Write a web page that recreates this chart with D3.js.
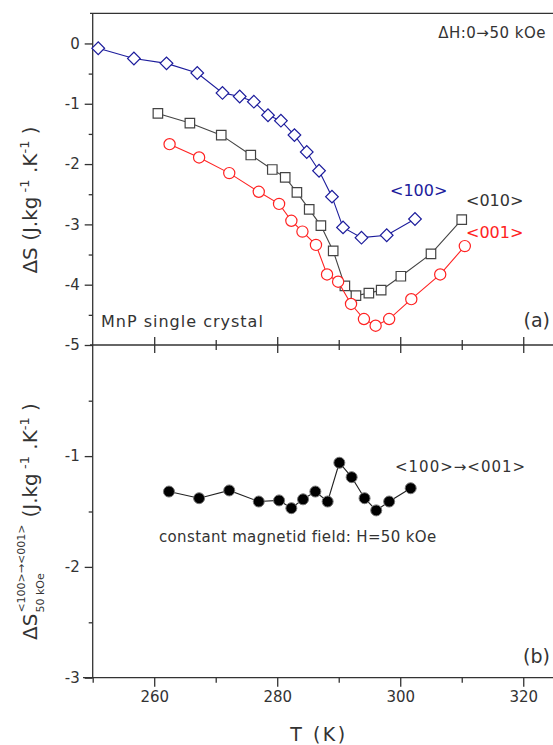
<!DOCTYPE html>
<html>
<head>
<meta charset="utf-8">
<script src="https://cdn.jsdelivr.net/npm/d3@7"></script>
<style>
body { margin: 0; background: #fff; }
text { font-family: "DejaVu Sans", Verdana, sans-serif; }
</style>
</head>
<body>
<script>
// <100> direction (blue diamonds)
var T100 = [250.9, 256.7, 262.0, 267.0, 271.1, 273.9, 276.2, 278.5, 280.6, 282.8, 284.8, 286.8, 288.9, 290.7, 293.7, 297.8, 302.4];
var dS100 = [-0.08, -0.25, -0.33, -0.49, -0.82, -0.88, -0.965, -1.19, -1.28, -1.52, -1.80, -2.11, -2.54, -3.05, -3.22, -3.18, -2.91];

// <010> direction (grey squares)
var T010 = [260.6, 265.8, 270.9, 275.7, 279.2, 281.3, 283.2, 285.2, 287.1, 289.1, 291.0, 292.8, 294.9, 296.9, 300.1, 305.0, 310.0];
var dS010 = [-1.16, -1.32, -1.52, -1.85, -2.09, -2.22, -2.47, -2.75, -3.02, -3.44, -4.02, -4.18, -4.14, -4.09, -3.86, -3.49, -2.92];

// <001> direction (red circles)
var T001 = [262.5, 267.3, 272.2, 277.0, 280.3, 282.3, 284.1, 286.3, 288.1, 289.9, 292.0, 294.1, 296.0, 298.2, 301.8, 306.5, 310.5];
var dS001 = [-1.67, -1.89, -2.15, -2.46, -2.66, -2.94, -3.12, -3.34, -3.83, -3.95, -4.32, -4.57, -4.68, -4.57, -4.24, -3.83, -3.36];

// <100> -> <001> rotation at 50 kOe
var Trot = [262.4, 267.3, 272.2, 277.0, 280.3, 282.3, 284.2, 286.2, 288.2, 290.1, 292.1, 294.2, 296.1, 298.2, 301.7];
var dSrot = [-1.32, -1.38, -1.31, -1.41, -1.40, -1.47, -1.39, -1.32, -1.41, -1.06, -1.19, -1.38, -1.49, -1.41, -1.29];

var xTicks = [260, 280, 300, 320];
var xMinor = [250, 270, 290, 310];
var yTopTicks = [0, -1, -2, -3, -4, -5];
var yTopMinor = [-0.5, -1.5, -2.5, -3.5, -4.5];
var yBotTicks = [-1, -2, -3];
var yBotMinor = [-0.5, -1.5, -2.5];

var width = 553, height = 745;
var axisCol = "#333";

var svg = d3.select("body").append("svg")
	.attr("width", width)
	.attr("height", height);

var x = d3.scaleLinear().domain([250, 325]).range([92.7, 554]);
var yTop = d3.scaleLinear().domain([-5, 0.5]).range([345, 13.3]);
var yBot = d3.scaleLinear().domain([-3, 0]).range([677.7, 345.3]);

function styleAxis(g) {
	g.selectAll("path.domain").remove();
	g.selectAll("line").attr("stroke", axisCol).attr("stroke-width", 1.3);
	g.selectAll("text").attr("fill", "#333").style("font-size", "15px")
		.style("font-family", "DejaVu Sans, Verdana, sans-serif");
}

// frame lines
svg.append("line").attr("x1", 90).attr("x2", width).attr("y1", yTop(0.5)).attr("y2", yTop(0.5))
	.attr("stroke", axisCol).attr("stroke-width", 1.3);
svg.append("line").attr("x1", x(250)).attr("x2", x(250)).attr("y1", yTop(0.5)).attr("y2", yBot(-3))
	.attr("stroke", axisCol).attr("stroke-width", 1.3);
svg.append("line").attr("x1", 90).attr("x2", width).attr("y1", yTop(-5)).attr("y2", yTop(-5))
	.attr("stroke", axisCol).attr("stroke-width", 1.3);
svg.append("line").attr("x1", 83).attr("x2", width).attr("y1", yBot(-3)).attr("y2", yBot(-3))
	.attr("stroke", axisCol).attr("stroke-width", 1.3);

// left axes
svg.append("g").attr("transform", "translate(" + x(250) + ",0)")
	.call(d3.axisLeft(yTop).tickValues(yTopTicks).tickSize(8).tickPadding(5).tickFormat(function(d){ return String(d); }))
	.call(styleAxis);
svg.append("g").attr("transform", "translate(" + x(250) + ",0)")
	.call(d3.axisLeft(yTop).tickValues(yTopMinor).tickSize(4).tickFormat(""))
	.call(styleAxis);
svg.append("g").attr("transform", "translate(" + x(250) + ",0)")
	.call(d3.axisLeft(yBot).tickValues(yBotTicks).tickSize(8).tickPadding(5).tickFormat(function(d){ return String(d); }))
	.call(styleAxis);
svg.append("g").attr("transform", "translate(" + x(250) + ",0)")
	.call(d3.axisLeft(yBot).tickValues(yBotMinor).tickSize(4).tickFormat(""))
	.call(styleAxis);

// middle axis, ticks cross the line
svg.append("g").attr("transform", "translate(0," + (yTop(-5) - 8) + ")")
	.call(d3.axisBottom(x).tickValues(xTicks).tickSize(16).tickFormat(""))
	.call(styleAxis);
svg.append("g").attr("transform", "translate(0," + (yTop(-5) - 5) + ")")
	.call(d3.axisBottom(x).tickValues(xMinor.slice(1)).tickSize(10).tickFormat(""))
	.call(styleAxis);

// bottom axis
svg.append("g").attr("transform", "translate(0," + yBot(-3) + ")")
	.call(d3.axisBottom(x).tickValues(xTicks).tickSize(9).tickPadding(5))
	.call(styleAxis);
svg.append("g").attr("transform", "translate(0," + yBot(-3) + ")")
	.call(d3.axisBottom(x).tickValues(xMinor).tickSize(5).tickFormat(""))
	.call(styleAxis);

// top panel series
function drawSeries(Ts, vals, col, lineCol, shape) {
	var pts = Ts.map(function(t, i){ return [x(t), yTop(vals[i])]; });
	svg.append("path")
		.attr("d", d3.line()(pts))
		.attr("fill", "none")
		.attr("stroke", lineCol)
		.attr("stroke-width", 1.1);
	var sel = svg.append("g").selectAll("path.m").data(pts).enter();
	if (shape == "circle") {
		sel.append("circle")
			.attr("cx", function(d){ return d[0]; })
			.attr("cy", function(d){ return d[1]; })
			.attr("r", 5.6)
			.attr("fill", "#fff").attr("stroke", col).attr("stroke-width", 1.2);
	} else {
		var sym = d3.symbol().type(d3.symbolSquare).size(shape == "diamond" ? 80 : 90);
		sel.append("path")
			.attr("d", sym)
			.attr("transform", function(d){
				return "translate(" + d[0] + "," + d[1] + ")" + (shape == "diamond" ? " rotate(45)" : "");
			})
			.attr("fill", "#fff").attr("stroke", col).attr("stroke-width", 1.2);
	}
}

drawSeries(T010, dS010, "#444", "#444", "square");
drawSeries(T001, dS001, "#ff2222", "#ff2222", "circle");
drawSeries(T100, dS100, "#1c1c9c", "#1c1c9c", "diamond");

// bottom panel series
var rotPts = Trot.map(function(t, i){ return [x(t), yBot(dSrot[i])]; });
svg.append("path")
	.attr("d", d3.line()(rotPts))
	.attr("fill", "none").attr("stroke", "#222").attr("stroke-width", 1.1);
svg.append("g").selectAll("circle").data(rotPts).enter().append("circle")
	.attr("cx", function(d){ return d[0]; })
	.attr("cy", function(d){ return d[1]; })
	.attr("r", 5.5)
	.attr("fill", "#000").attr("stroke", "#777").attr("stroke-width", 1);

// annotations
function label(txt, px, py, size, col, anchor, ls) {
	return svg.append("text").attr("x", px).attr("y", py)
		.attr("fill", col).style("font-size", size + "px")
		.style("letter-spacing", (ls || 0) + "px")
		.attr("text-anchor", anchor || "start").text(txt);
}
label("\u0394H:0\u219250 kOe", 546, 38, 15, "#333", "end", 0.5);
label("<100>", 390, 196, 16, "#1c1c9c");
label("<010>", 466, 206, 16, "#333");
label("<001>", 466, 238, 16, "#ff2222");
label("MnP single crystal", 101, 327, 16, "#333", "start", 1);
label("(a)", 550, 327, 19, "#333", "end");
label("<100>\u2192<001>", 395, 472, 15, "#333", "start", 1);
label("constant magnetid field: H=50 kOe", 159, 542, 15, "#333", "start", 0.35);
label("(b)", 550, 663, 19, "#333", "end");
label("T (K)", 319, 741, 19, "#333", "middle", 2.5);

// top y title
var t1 = svg.append("text")
	.attr("transform", "translate(37,200) rotate(-90)")
	.attr("text-anchor", "middle")
	.attr("fill", "#333").style("font-size", "20px");
t1.append("tspan").text("\u0394S (J.kg");
t1.append("tspan").attr("dy", -8).style("font-size", "13px").text(" -1");
t1.append("tspan").attr("dy", 8).text(" .K");
t1.append("tspan").attr("dy", -8).style("font-size", "13px").text("-1");
t1.append("tspan").attr("dy", 8).text(" )");

// bottom y title with stacked super/subscript
var g2 = svg.append("g").attr("transform", "translate(37,640) rotate(-90)");
var ds = g2.append("text").attr("x", 0).attr("y", 0)
	.attr("fill", "#333").style("font-size", "20px").text("\u0394S");
var w = ds.node().getComputedTextLength();
var sup = g2.append("text").attr("x", w + 1).attr("y", -12)
	.attr("fill", "#333").style("font-size", "11px").text("<100>\u2192<001>");
var sub = g2.append("text").attr("x", w + 1).attr("y", 7)
	.attr("fill", "#333").style("font-size", "11px").text("50 kOe");
var w2 = Math.max(sup.node().getComputedTextLength(), sub.node().getComputedTextLength());
var t2 = g2.append("text").attr("x", w + w2 + 8).attr("y", 0)
	.attr("fill", "#333").style("font-size", "20px");
t2.append("tspan").text("(J.kg");
t2.append("tspan").attr("dy", -8).style("font-size", "13px").text(" -1");
t2.append("tspan").attr("dy", 8).text(" .K");
t2.append("tspan").attr("dy", -8).style("font-size", "13px").text("-1");
t2.append("tspan").attr("dy", 8).text(" )");
</script>
</body>
</html>
